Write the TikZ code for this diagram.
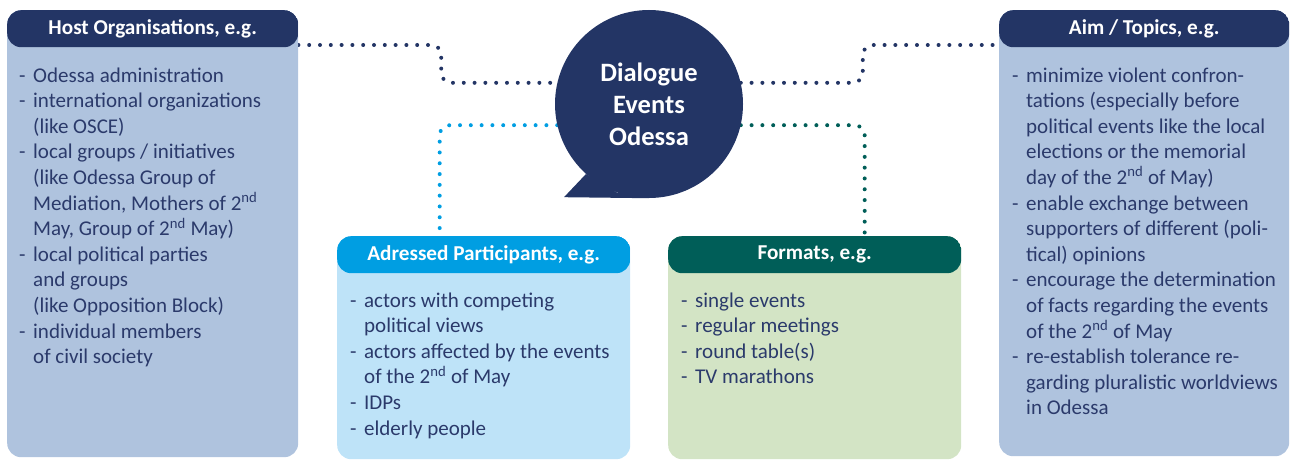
\documentclass[tikz,border=0pt]{standalone}
\usepackage{fontspec}
\setmainfont{Carlito}
\usetikzlibrary{positioning, calc, backgrounds}

\definecolor{navy}{HTML}{233565}
\definecolor{hostbg}{HTML}{AFC3DE}
\definecolor{skyhead}{HTML}{009EE2}
\definecolor{skybg}{HTML}{BEE3F8}
\definecolor{pinehead}{HTML}{005E58}
\definecolor{pinebg}{HTML}{D3E4C5}
\definecolor{ink}{HTML}{2B3A6B}

\begin{document}
\begin{tikzpicture}[x=1pt, y=1pt,
    card/.style 2 args={rectangle, rounded corners=14pt, inner sep=0pt, fill=#2,
        path picture={\fill[#1] (path picture bounding box.north west) rectangle ([yshift=-37pt]path picture bounding box.north east);}},
    head/.style={inner sep=0pt, minimum height=37pt, text=white, font=\fontsize{21.2}{24}\selectfont\bfseries},
    list/.style={inner sep=0pt, anchor=base west, text=ink, font=\fontsize{21}{25.6}\selectfont},
    dots/.style={line width=4pt, line cap=round, dash pattern=on 0pt off 10.8pt, rounded corners=10pt}]
        \useasboundingbox (0,0) rectangle (1290,459);
        \node[card={navy}{hostbg}, minimum width=291pt, minimum height=447pt, anchor=north west] (host) at (7,449) {};
        \node[head, below=0pt of host.north] (hosthead) {Host Organisations, e.g.};
        \node[list] (hostlist) at ([shift={(12pt,-72pt)}]host.north west) {\begin{tabular}[t]{@{}p{14pt}@{}l@{}}
            - & Odessa administration\\
            - & international organizations\\
              & (like OSCE)\\
            - & local groups / initiatives\\
              & (like Odessa Group of\\
              & Mediation, Mothers of 2\textsuperscript{nd}\\
              & May, Group of 2\textsuperscript{nd} May)\\
            - & local political parties\\
              & and groups\\
              & (like Opposition Block)\\
            - & individual members\\
              & of civil society
        \end{tabular}};
        \node[card={skyhead}{skybg}, minimum width=293pt, minimum height=223pt, anchor=north west] (part) at (337,223) {};
        \node[head, below=0pt of part.north] (parthead) {Adressed Participants, e.g.};
        \node[list] (partlist) at ([shift={(13pt,-71pt)}]part.north west) {\begin{tabular}[t]{@{}p{14pt}@{}l@{}}
            - & actors with competing\\
              & political views\\
            - & actors affected by the events\\
              & of the 2\textsuperscript{nd} of May\\
            - & IDPs\\
            - & elderly people
        \end{tabular}};
        \node[card={pinehead}{pinebg}, minimum width=293pt, minimum height=223pt, anchor=north west] (form) at (668,223) {};
        \node[head, below=0pt of form.north] (formhead) {Formats, e.g.};
        \node[list] (formlist) at ([shift={(13pt,-71pt)}]form.north west) {\begin{tabular}[t]{@{}p{14pt}@{}l@{}}
            - & single events\\
            - & regular meetings\\
            - & round table(s)\\
            - & TV marathons
        \end{tabular}};
        \node[card={navy}{hostbg}, minimum width=290pt, minimum height=446pt, anchor=north west] (aim) at (999,449) {};
        \node[head, below=0pt of aim.north] (aimhead) {Aim / Topics, e.g.};
        \node[list] (aimlist) at ([shift={(13pt,-72pt)}]aim.north west) {\begin{tabular}[t]{@{}p{14pt}@{}l@{}}
            - & minimize violent confron-\\
              & tations (especially before\\
              & political events like the local\\
              & elections or the memorial\\
              & day of the 2\textsuperscript{nd} of May)\\
            - & enable exchange between\\
              & supporters of different (poli-\\
              & tical) opinions\\
            - & encourage the determination\\
              & of facts regarding the events\\
              & of the 2\textsuperscript{nd} of May\\
            - & re-establish tolerance re-\\
              & garding pluralistic worldviews\\
              & in Odessa
        \end{tabular}};
        % speech bubble in the middle
        \node[circle, fill=navy, minimum size=188pt, inner sep=0pt, text=white, align=center,
            font=\fontsize{26.5}{32}\selectfont\bfseries] (bubble) at (649,355) {Dialogue\\Events\\Odessa};
        \begin{scope}[on background layer]
            \fill[navy] (bubble.228) -- ([shift={(-85pt,1pt)}]bubble.south) -- (bubble.south) -- (bubble.250) -- cycle;
            \draw[dots, navy] ([yshift=-35pt]host.north east) -| ($(bubble.167)+(-116pt,0)$) -- (bubble.167);
            \draw[dots, navy] (bubble.13) -- ($(bubble.13)+(122pt,0)$) |- ([yshift=-35pt]aim.north west);
            \draw[dots, skyhead] (bubble.193) -| ([xshift=-44pt]part.north);
            \draw[dots, pinehead] (bubble.347) -| ([xshift=50pt]form.north);
        \end{scope}
    \end{tikzpicture}
\end{document}
